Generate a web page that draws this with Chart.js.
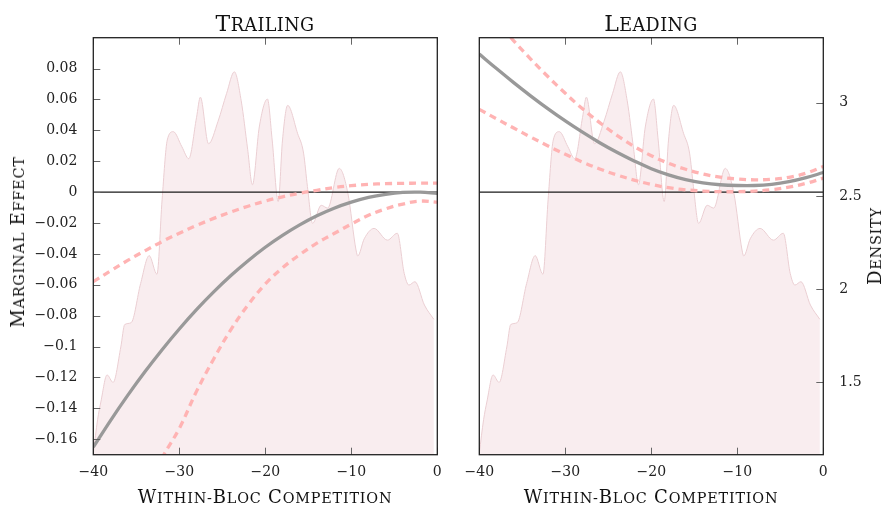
<!DOCTYPE html>
<html>
<head>
<meta charset="utf-8">
<script src="https://cdn.jsdelivr.net/npm/chart.js@4"></script>
<style>
  html, body { margin: 0; padding: 0; background: #fff; }
  #wrap { position: relative; width: 884px; height: 506px; overflow: hidden; font-family: 'DejaVu Serif', serif; color: #111; }
  canvas { position: absolute; top: 0; }
  #trailing { left: 0; }
  #leading { left: 440px; }
  .lbl { position: absolute; white-space: nowrap; transform: translate(-50%, -50%); line-height: 1; }
  .lbl span { font-size: 0.8em; text-transform: uppercase; }
  .panel { font-size: 22px; top: 24px; letter-spacing: 0.4px; }
  .axis { font-size: 18px; letter-spacing: 0.8px; }
  .vert { transform: translate(-50%, -50%) rotate(-90deg); }
</style>
</head>
<body>
<div id="wrap">
  <canvas id="trailing" width="460" height="506"></canvas>
  <canvas id="leading" width="444" height="506"></canvas>
  <div class="lbl panel" style="left:265px">T<span>railing</span></div>
  <div class="lbl panel" style="left:651px">L<span>eading</span></div>
  <div class="lbl axis" style="left:265px;top:497px">W<span>ithin-</span>B<span>loc</span> C<span>ompetition</span></div>
  <div class="lbl axis" style="left:651px;top:497px">W<span>ithin-</span>B<span>loc</span> C<span>ompetition</span></div>
  <div class="lbl axis vert" style="left:18px;top:242px">M<span>arginal</span> E<span>ffect</span></div>
  <div class="lbl axis vert" style="left:875px;top:246px">D<span>ensity</span></div>
</div>
<script>
// x positions shared by all effect curves
const xGrid = [-40, -38, -36, -34, -32, -30, -28, -26, -24, -22, -20, -18, -16, -14, -12, -10, -8, -6, -4, -2, 0];

// Trailing panel: marginal effect and its band
const trailingEffect = [-0.1651, -0.1479, -0.1316, -0.1163, -0.1020, -0.0886, -0.0761, -0.0646, -0.0540, -0.0444, -0.0357, -0.0280, -0.0212, -0.0153, -0.0104, -0.0065, -0.0034, -0.0014, -0.0002, 0.0000, -0.0008];
const trailingUpper = [-0.0580, -0.0510, -0.0442, -0.0380, -0.0320, -0.0266, -0.0216, -0.0170, -0.0129, -0.0091, -0.0058, -0.0030, -0.0007, 0.0012, 0.0030, 0.0042, 0.0050, 0.0055, 0.0057, 0.0058, 0.0058];
const trailingLower = [-0.272, -0.245, -0.218, -0.195, -0.172, -0.153, -0.129, -0.108, -0.089, -0.073, -0.0595, -0.049, -0.0405, -0.033, -0.0268, -0.0207, -0.0150, -0.0108, -0.0077, -0.0058, -0.0065];

// Leading panel
const leadingEffect = [0.0894, 0.0800, 0.0709, 0.0622, 0.0539, 0.0461, 0.0388, 0.0320, 0.0258, 0.0202, 0.0152, 0.0112, 0.0081, 0.0060, 0.0048, 0.0043, 0.0043, 0.0051, 0.0068, 0.0094, 0.0127];
const leadingUpper = [0.1235, 0.1105, 0.0980, 0.0860, 0.0747, 0.0640, 0.0540, 0.0450, 0.0368, 0.0296, 0.0236, 0.0187, 0.0148, 0.0118, 0.0097, 0.0085, 0.0080, 0.0083, 0.0096, 0.0123, 0.0166];
const leadingLower = [0.0536, 0.0475, 0.0415, 0.0356, 0.0299, 0.0245, 0.0195, 0.0150, 0.0111, 0.0078, 0.0050, 0.0029, 0.0015, 0.0007, 0.0003, 0.0003, 0.0007, 0.0016, 0.0032, 0.0057, 0.0091];

// kernel density of within-bloc competition (same in both panels)
const densityX = [-40, -39.5, -39.1, -38.4, -37.7, -36.8, -36.35, -35.6, -34.5, -33.5, -32.6, -32.0, -31.4, -30.7, -29.7, -28.9, -28.0, -27.55, -26.6, -25.5, -24.5, -23.6, -22.8, -22.05, -21.5, -20.7, -19.75, -19.2, -18.5, -18.0, -17.4, -16.25, -15.55, -15.1, -14.5, -13.5, -12.75, -11.4, -10.4, -9.45, -9.25, -8.5, -7.35, -5.8, -4.65, -3.85, -3.3, -2.6, -1.5, -0.4];
const densityY = [1.12, 1.30, 1.40, 1.54, 1.50, 1.69, 1.81, 1.82, 2.03, 2.18, 2.08, 2.48, 2.80, 2.845, 2.764, 2.70, 2.92, 3.03, 2.78, 2.90, 3.05, 3.166, 3.01, 2.75, 2.56, 2.87, 3.02, 2.80, 2.47, 2.80, 2.986, 2.836, 2.73, 2.55, 2.353, 2.45, 2.435, 2.648, 2.515, 2.21, 2.178, 2.27, 2.326, 2.263, 2.30, 2.085, 2.022, 2.04, 1.915, 1.838];

const xTicks = [-40, -30, -20, -10, 0];
const effectTicks = [-0.16, -0.14, -0.12, -0.1, -0.08, -0.06, -0.04, -0.02, 0, 0.02, 0.04, 0.06, 0.08];
const densityTicks = [1.5, 2, 2.5, 3];

const tickFont = { family: 'DejaVu Serif', size: 14 };

function fmt(v) {
  if (Math.abs(v) < 1e-9) return '0';
  return (v < 0 ? '\u2212' : '') + String(+Math.abs(v).toFixed(2));
}

function pts(xs, ys) {
  return xs.map((x, i) => ({ x: x, y: ys[i] }));
}

// box round the plot with inward ticks
const frame = {
  id: 'frame',
  afterDatasetsDraw(chart, args, opts) {
    const { ctx, chartArea: a, scales } = chart;
    ctx.save();
    ctx.strokeStyle = '#666';
    ctx.lineWidth = 1;
    ctx.beginPath();
    scales.x.ticks.forEach(t => {
      const px = Math.round(scales.x.getPixelForValue(t.value)) + 0.5;
      ctx.moveTo(px, a.bottom); ctx.lineTo(px, a.bottom - 7);
      ctx.moveTo(px, a.top); ctx.lineTo(px, a.top + 7);
    });
    const ys = scales[opts.axis];
    ys.ticks.forEach(t => {
      const py = Math.round(ys.getPixelForValue(t.value)) + 0.5;
      if (opts.side === 'left') { ctx.moveTo(a.left, py); ctx.lineTo(a.left + 7, py); }
      else { ctx.moveTo(a.right, py); ctx.lineTo(a.right - 7, py); }
    });
    ctx.stroke();
    ctx.strokeStyle = '#222';
    ctx.lineWidth = 1.3;
    ctx.strokeRect(a.left, a.top, a.right - a.left, a.bottom - a.top);
    ctx.restore();
  }
};

function makeChart(id, effect, upper, lower, pad, side) {
  const curve = { yAxisID: 'y', borderWidth: 3.3, tension: 0.4, cubicInterpolationMode: 'default' };
  const datasets = [
    { ...curve, data: pts(xGrid, effect), borderColor: '#999999', order: 0 },
    { ...curve, data: pts(xGrid, upper), borderColor: '#ffb3b3', borderDash: [7, 5], order: 1 },
    { ...curve, data: pts(xGrid, lower), borderColor: '#ffb3b3', borderDash: [7, 5], order: 1 },
    { data: pts([xTicks[0], xTicks[xTicks.length - 1]], [0, 0]), yAxisID: 'y', borderColor: '#1a1a1a', borderWidth: 1.2, order: 2 },
    { data: pts(densityX, densityY), yAxisID: 'y2', borderColor: '#ebcfd3', borderWidth: 1, backgroundColor: '#f9edef',
      fill: 'start', cubicInterpolationMode: 'monotone', order: 3 }
  ];
  datasets.forEach(d => {
    d.pointRadius = 0;
    d.clip = 0;
    if (!d.fill) d.fill = false;
  });

  return new Chart(document.getElementById(id), {
    type: 'line',
    data: { datasets: datasets },
    options: {
      responsive: false,
      animation: false,
      devicePixelRatio: 1,
      layout: { padding: pad },
      plugins: { legend: { display: false }, tooltip: { enabled: false }, frame: { axis: side === 'left' ? 'y' : 'y2', side: side } },
      scales: {
        x: {
          type: 'linear', min: -40, max: 0,
          grid: { display: false }, border: { display: false },
          afterBuildTicks: s => { s.ticks = xTicks.map(v => ({ value: v })); },
          afterFit: s => { s.height = 51.3; },
          ticks: { font: tickFont, color: '#222', padding: 1, maxRotation: 0, callback: v => fmt(v) }
        },
        y: {
          display: side === 'left', position: 'left', min: -0.17, max: 0.1,
          grid: { display: false }, border: { display: false },
          afterBuildTicks: s => { s.ticks = effectTicks.map(v => ({ value: v })); },
          afterFit: s => { s.width = side === 'left' ? 93.3 : 0; },
          ticks: { font: tickFont, color: '#222', padding: 8, callback: v => fmt(v) }
        },
        y2: {
          display: side === 'right', position: 'right', min: 1.112, max: 3.349,
          grid: { display: false }, border: { display: false },
          afterBuildTicks: s => { s.ticks = densityTicks.map(v => ({ value: v })); },
          afterFit: s => { s.width = side === 'right' ? 60.7 : 0; },
          ticks: { font: tickFont, color: '#222', padding: 8, callback: v => String(v) }
        }
      }
    },
    plugins: [frame]
  });
}

makeChart('trailing', trailingEffect, trailingUpper, trailingLower, { top: 37.7, right: 22.7, left: 0, bottom: 0 }, 'left');
makeChart('leading', leadingEffect, leadingUpper, leadingLower, { top: 37.7, right: 0, left: 39.3, bottom: 0 }, 'right');
</script>
</body>
</html>
